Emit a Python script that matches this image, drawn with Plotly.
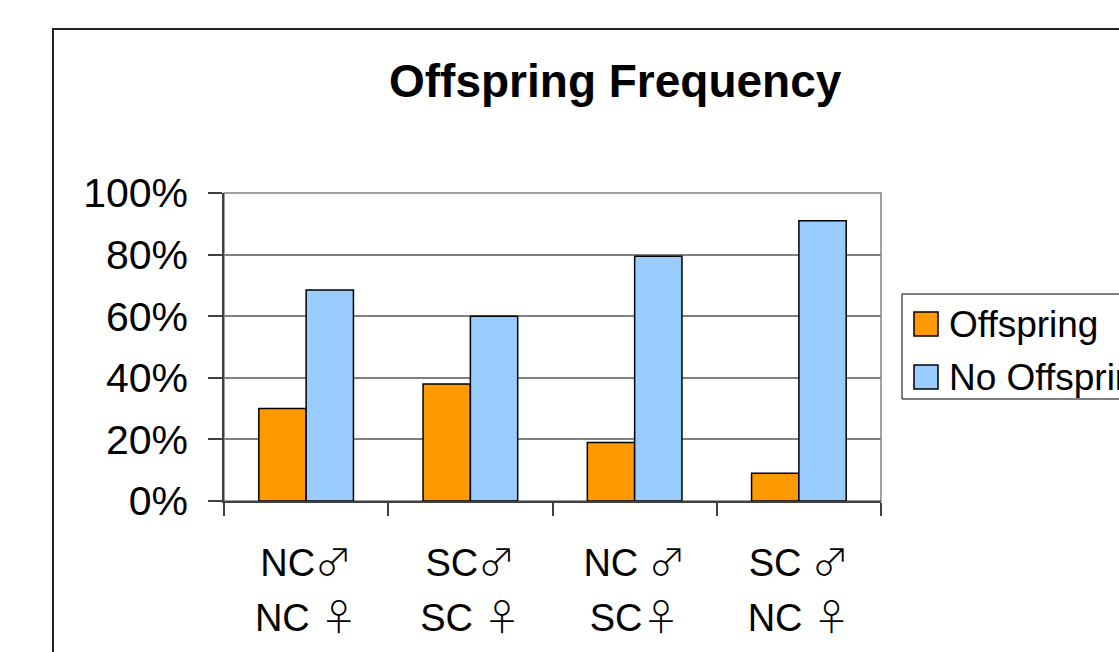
import plotly.graph_objects as go

# Crossing groups (male line / female line)
male = ["NC♂", "SC♂", "NC ♂", "SC ♂"]
female = ["NC ♀", "SC ♀", "SC♀", "NC ♀"]
series_names = ["Offspring", "No Offspring"]
offspring = [0.30, 0.38, 0.19, 0.09]
no_offspring = [0.685, 0.60, 0.795, 0.91]
y_ticks = [0, 0.2, 0.4, 0.6, 0.8, 1.0]

colors = ["#FF9900", "#99CCFF"]

W, H = 1119, 652
PL, PR, PT, PB = 224, 881, 193, 501  # plot area in pixels

SYM_STYLE = "font-family:'Noto Sans CJK JP';font-weight:300;font-size:37px"


def symbolize(label):
    # sex symbols drawn with a thin-stroke glyph font
    for s in ("♂", "♀"):
        label = label.replace(s, f"<span style=\"{SYM_STYLE}\">{s}</span>")
    return label


categories = [m + " / " + f for m, f in zip(male, female)]
positions = list(range(len(categories)))


def px_x(px):
    return (px - PL) / (PR - PL)


def px_y(py):
    return (PB - py) / (PB - PT)


fig = go.Figure()
for name, vals, col in zip(series_names, [offspring, no_offspring], colors):
    fig.add_trace(go.Bar(
        x=categories, y=vals, name=name,
        marker=dict(color=col, line=dict(color="#000000", width=1.5)),
        showlegend=False,
    ))

# invisible carrier so the second label row (xaxis2) is drawn
fig.add_trace(go.Scatter(
    x=positions, y=offspring, xaxis="x2", yaxis="y", mode="markers",
    marker=dict(opacity=0), showlegend=False, hoverinfo="skip",
))

shapes = [
    # outer chart frame
    dict(type="rect", xref="paper", yref="paper",
         x0=px_x(53), x1=px_x(1130), y0=px_y(29), y1=px_y(680),
         line=dict(color="#222222", width=2), layer="below"),
    # plot area border
    dict(type="rect", xref="paper", yref="paper", x0=0, x1=1, y0=0, y1=1,
         line=dict(color="#808080", width=1.5), layer="below"),
    # legend frame
    dict(type="rect", xref="paper", yref="paper",
         x0=px_x(902), x1=px_x(1135), y0=px_y(294), y1=px_y(399),
         line=dict(color="#000000", width=1), fillcolor="white", layer="above"),
]
annotations = []
legend_rows = [324, 377]
for name, col, cy in zip(series_names, colors, legend_rows):
    shapes.append(dict(type="rect", xref="paper", yref="paper",
                       x0=px_x(914), x1=px_x(938), y0=px_y(cy - 12), y1=px_y(cy + 12),
                       fillcolor=col, line=dict(color="#000000", width=1.5),
                       layer="above"))
    annotations.append(dict(xref="paper", yref="paper", x=px_x(947), y=px_y(cy),
                            xanchor="left", yanchor="middle", showarrow=False,
                            text=name,
                            font=dict(family="Liberation Sans, Arial", size=37,
                                      color="#000000")))

annotations.append(dict(xref="paper", yref="paper", x=px_x(615), y=px_y(81),
                        xanchor="center", yanchor="middle", showarrow=False,
                        text="<b>Offspring Frequency</b>",
                        font=dict(family="Liberation Sans, Arial", size=46,
                                  color="#000000")))

label_font = dict(family="Liberation Sans, Arial", size=38, color="#000000")

fig.update_layout(
    width=W, height=H,
    margin=dict(l=PL, r=W - PR, t=PT, b=H - PB, autoexpand=False),
    paper_bgcolor="white", plot_bgcolor="white",
    barmode="group", bargap=0.424, bargroupgap=0,
    shapes=shapes, annotations=annotations,
    font=dict(family="Liberation Sans, Arial", color="#000000"),
    # first row of category labels (male line)
    xaxis=dict(
        range=[-0.5, 3.5], tickson="boundaries",
        tickvals=categories, ticktext=[symbolize(m) for m in male],
        showline=True, linecolor="#404040", linewidth=1.5,
        ticks="outside", ticklen=13, tickcolor="#404040", tickwidth=1.5,
        ticklabelstandoff=28, tickfont=label_font,
        showgrid=False, zeroline=False,
    ),
    # second row of category labels (female line)
    xaxis2=dict(
        overlaying="x", anchor="y", side="bottom",
        range=[-0.5, 3.5], tickvals=positions,
        ticktext=[symbolize(f) for f in female],
        showline=False, showgrid=False, zeroline=False, ticks="",
        ticklabelstandoff=91, tickfont=label_font,
    ),
    yaxis=dict(
        range=[0, 1], tickvals=y_ticks, tickformat=".0%",
        showgrid=True, gridcolor="#808080", gridwidth=1.5,
        showline=True, linecolor="#404040", linewidth=1.5,
        ticks="outside", ticklen=14, tickcolor="#404040", tickwidth=1.5,
        ticklabelstandoff=12,
        tickfont=dict(family="Liberation Sans, Arial", size=41, color="#000000"),
        zeroline=False,
    ),
)

fig.write_html("out.html")
